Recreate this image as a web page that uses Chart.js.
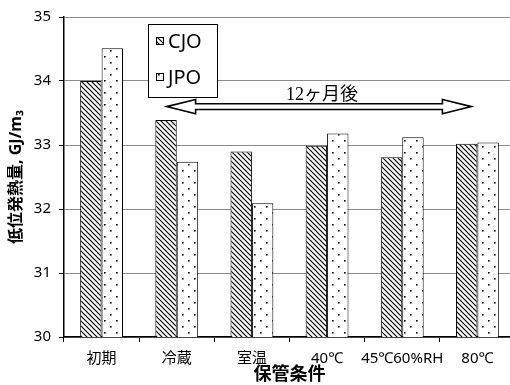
<!DOCTYPE html>
<html>
<head>
<meta charset="utf-8">
<script src="https://cdn.jsdelivr.net/npm/chart.js@4/dist/chart.umd.min.js"></script>
<style>
  html, body { margin: 0; padding: 0; background: #fff; overflow: hidden; }
  #wrap { width: 516px; height: 385px; }
</style>
</head>
<body>
<div id="wrap"><canvas id="c" width="516" height="385"></canvas></div>
<script>
// 保管条件ごとの低位発熱量 (GJ/m3)
const categories = ['初期', '冷蔵', '室温', '40℃', '45℃60%RH', '80℃'];
const cjoValues = [34.00, 33.39, 32.90, 32.99, 32.81, 33.02];
const jpoValues = [34.51, 32.74, 32.09, 33.18, 33.12, 33.04];
const seriesNames = ['CJO', 'JPO'];
const yTicks = [30, 31, 32, 33, 34, 35];
const arrowLabel = '12ヶ月後';

const SANS = "'Noto Sans', 'Noto Sans CJK JP', sans-serif";
const SERIF = "'Liberation Serif', 'DejaVu Serif', 'Noto Sans CJK JP', serif";

// diagonal hatch fill
function makeHatch() {
  const s = 5;
  const c = document.createElement('canvas');
  c.width = s; c.height = s;
  const g = c.getContext('2d');
  g.fillStyle = '#fff'; g.fillRect(0, 0, s, s);
  g.strokeStyle = '#000'; g.lineWidth = 1.2;
  g.beginPath();
  g.moveTo(-1, -1); g.lineTo(s + 1, s + 1);
  g.moveTo(-1, s - 1); g.lineTo(1, s + 1);
  g.moveTo(s - 1, -1); g.lineTo(s + 1, 1);
  g.stroke();
  return g.createPattern(c, 'repeat');
}

// sparse dot fill
function makeDots() {
  const w = 12, h = 12;
  const c = document.createElement('canvas');
  c.width = w; c.height = h;
  const g = c.getContext('2d');
  g.fillStyle = '#fff'; g.fillRect(0, 0, w, h);
  g.fillStyle = '#000';
  g.fillRect(2, 2, 1.6, 1.6);
  g.fillRect(8, 8, 1.6, 1.6);
  return g.createPattern(c, 'repeat');
}

const hatch = makeHatch();
const dots = makeDots();

// legend box and the "12ヶ月後" double-outline arrow
const overlay = {
  id: 'overlay',
  afterDatasetsDraw(chart) {
    const { ctx, chartArea: a, scales: { x, y } } = chart;
    ctx.save();

    // legend
    const bx = a.left + 84, by = a.top + 7, bw = 69, bh = 73;
    ctx.fillStyle = '#fff';
    ctx.fillRect(bx, by, bw, bh);
    ctx.strokeStyle = '#000'; ctx.lineWidth = 1;
    ctx.strokeRect(bx + 0.5, by + 0.5, bw, bh);
    const fills = [hatch, dots];
    const rows = [by + 17, by + 53];
    ctx.font = '20px ' + SANS;
    ctx.textBaseline = 'middle';
    ctx.textAlign = 'left';
    for (let i = 0; i < 2; i++) {
      ctx.fillStyle = fills[i];
      ctx.fillRect(bx + 8, rows[i] - 4, 8, 8);
      ctx.strokeRect(bx + 8.5, rows[i] - 3.5, 7, 7);
      ctx.fillStyle = '#000';
      ctx.fillText(seriesNames[i], bx + 20, rows[i] + 1);
    }

    // arrow spanning the 12-month conditions
    const cw = x.getPixelForValue(1) - x.getPixelForValue(0);
    const x0 = x.getPixelForValue(1) - cw * 0.135;
    const x1 = x.getPixelForValue(5) - cw * 0.08;
    const yc = y.getPixelForValue(33.6);
    const head = 29, hh = 7.2, sh = 2.9;
    ctx.beginPath();
    ctx.moveTo(x0, yc);
    ctx.lineTo(x0 + head, yc - hh);
    ctx.lineTo(x0 + head, yc - sh);
    ctx.lineTo(x1 - head, yc - sh);
    ctx.lineTo(x1 - head, yc - hh);
    ctx.lineTo(x1, yc);
    ctx.lineTo(x1 - head, yc + hh);
    ctx.lineTo(x1 - head, yc + sh);
    ctx.lineTo(x0 + head, yc + sh);
    ctx.lineTo(x0 + head, yc + hh);
    ctx.closePath();
    ctx.fillStyle = '#fff';
    ctx.fill();
    ctx.lineWidth = 1.6;
    ctx.lineJoin = 'miter';
    ctx.strokeStyle = '#000';
    ctx.stroke();

    ctx.font = '18px ' + SERIF;
    ctx.textAlign = 'center';
    ctx.textBaseline = 'alphabetic';
    ctx.fillStyle = '#000';
    ctx.fillText(arrowLabel, (x0 + x1) / 2 + 3, yc - 7);
    ctx.restore();
  }
};

new Chart(document.getElementById('c'), {
  type: 'bar',
  data: {
    labels: categories,
    datasets: [
      { label: seriesNames[0], data: cjoValues, backgroundColor: hatch,
        borderColor: '#000', borderWidth: 1, borderSkipped: 'bottom' },
      { label: seriesNames[1], data: jpoValues, backgroundColor: dots,
        borderColor: '#000', borderWidth: 1, borderSkipped: 'bottom' }
    ]
  },
  options: {
    responsive: false,
    animation: false,
    events: [],
    layout: { padding: { top: 17, right: 1, left: 0, bottom: 0 } },
    datasets: { bar: { categoryPercentage: 0.57, barPercentage: 1.0 } },
    plugins: { legend: { display: false }, tooltip: { enabled: false } },
    scales: {
      x: {
        grid: { display: true, drawOnChartArea: false, drawTicks: true,
                tickLength: 5, color: '#000', offset: true },
        border: { display: true, color: '#000', width: 1.5 },
        ticks: { font: { family: SANS, size: 15 }, color: '#000', padding: 8,
                 maxRotation: 0, autoSkip: false },
        title: { display: true, text: '保管条件', color: '#000',
                 font: { family: SANS, size: 18, weight: 'bold', lineHeight: 1.2 },
                 padding: { top: 0, bottom: -1 } },
        afterFit(s) { s.height = 48; }
      },
      y: {
        min: yTicks[0], max: yTicks[yTicks.length - 1],
        afterBuildTicks(s) { s.ticks = yTicks.map(v => ({ value: v })); },
        grid: { color: '#8c8c8c', lineWidth: 1, tickColor: '#000', tickLength: 5 },
        border: { display: true, color: '#000', width: 1.5 },
        ticks: { font: { family: SANS, size: 15 }, color: '#000', padding: 8 },
        title: { display: true, text: '低位発熱量, GJ/m₃', color: '#000',
                 font: { family: SANS, size: 16, weight: 'bold', lineHeight: 1.2 },
                 padding: { top: 7, bottom: 0 } },
        afterFit(s) { s.width = 64; }
      }
    }
  },
  plugins: [overlay]
});
</script>
</body>
</html>
